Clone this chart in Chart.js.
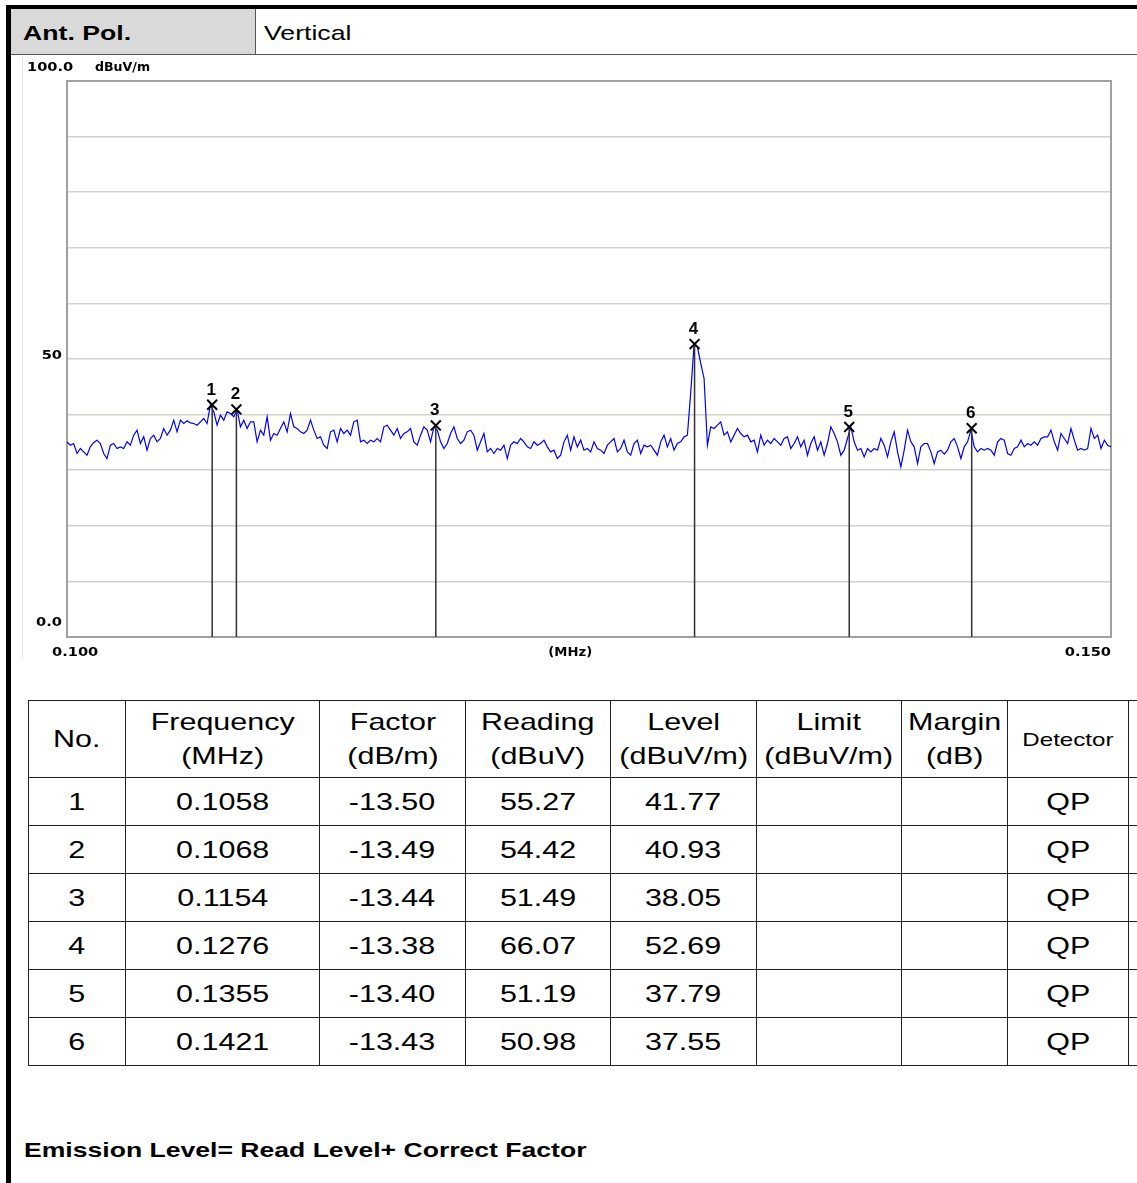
<!DOCTYPE html>
<html>
<head>
<meta charset="utf-8">
<script src="https://cdn.jsdelivr.net/npm/chart.js@4.4.1/dist/chart.umd.min.js"></script>
<style>
    html, body { margin: 0; padding: 0; background: #fff; }
    body { width: 1137px; height: 1183px; position: relative; overflow: hidden;
           font-family: "Liberation Sans", Arial, sans-serif; color: #000; }
    .bar-left { position: absolute; left: 6px; top: 5px; width: 5px; height: 1178px; background: #000; }
    .bar-top { position: absolute; left: 6px; top: 5px; width: 1131px; height: 4px; background: #000; }
    .hdr { position: absolute; top: 9px; height: 45px; border-bottom: 1px solid #555; }
    .hdr-key { left: 11px; width: 244px; background: #d9d9d9; border-right: 1px solid #555; }
    .hdr-val { left: 256px; width: 881px; }
    .hdr span { position: absolute; top: 12px; font-size: 21px; white-space: nowrap;
                transform: scaleX(1.27); transform-origin: left center; }
    .hdr-key span { left: 12px; font-weight: bold; }
    .hdr-val span { left: 8px; }
    .faint { position: absolute; left: 22px; top: 57px; width: 1px; height: 602px; background: #e4e4e4; }
    .chart-box { position: absolute; left: 22px; top: 57px; width: 1115px; height: 605px; }
    table { position: absolute; left: 28px; top: 700px; border-collapse: collapse; table-layout: fixed; width: 1160px; }
    td { border: 1.5px solid #222; padding: 0; text-align: center; font-size: 24px; height: 47px; }
    tr.head td { height: 76px; line-height: 34px; }
    .sc { display: inline-block; transform: scaleX(1.27); white-space: nowrap; }
    .det { font-size: 19px; }
    .note { position: absolute; left: 24px; top: 1138px; font-size: 21px; font-weight: bold; white-space: nowrap;
            transform: scaleX(1.265); transform-origin: left center; }
</style>
</head>
<body>
<div class="bar-top"></div>
<div class="bar-left"></div>
<div class="hdr hdr-key"><span>Ant. Pol.</span></div>
<div class="hdr hdr-val"><span>Vertical</span></div>
<div class="faint"></div>
<div class="chart-box"><canvas id="chart-emi"></canvas></div>
<table id="marker-table"></table>
<div class="note">Emission Level= Read Level+ Correct Factor</div>

<script>
// sweep span (MHz), log axis
const sweepStartMHz = 0.1;
const sweepStopMHz = 0.15;

// measured trace, dBuV/m, one value per sweep point
const traceLevel = [
    35.1, 34.5, 34.8, 33.0, 33.9, 33.3, 32.7, 34.2, 35.0, 35.4,
    34.8, 33.0, 32.1, 34.5, 34.8, 33.9, 34.2, 33.9, 35.1, 34.5,
    36.3, 37.2, 34.8, 36.0, 33.6, 35.7, 36.3, 35.1, 35.7, 37.5,
    36.3, 37.2, 39.0, 36.9, 39.0, 38.4, 38.9, 38.5, 38.4, 38.1,
    38.7, 39.3, 38.4, 41.8, 40.5, 38.1, 39.9, 39.0, 40.5, 40.2,
    39.6, 40.9, 37.8, 39.0, 37.5, 38.7, 38.7, 35.1, 37.2, 36.3,
    39.6, 35.4, 36.6, 36.3, 37.5, 38.7, 36.9, 40.2, 37.8, 37.5,
    36.9, 36.6, 37.2, 39.0, 37.2, 35.7, 36.0, 34.5, 33.9, 36.9,
    37.2, 35.1, 37.5, 36.6, 37.2, 36.3, 38.7, 39.0, 35.1, 35.4,
    34.8, 35.4, 35.1, 35.7, 35.1, 37.8, 38.1, 37.2, 36.3, 37.5,
    35.7, 36.6, 36.9, 37.5, 35.1, 34.5, 36.3, 37.8, 37.2, 35.1,
    37.8, 37.2, 35.1, 33.9, 34.8, 36.6, 37.8, 35.7, 34.8, 35.4,
    36.9, 37.2, 36.3, 33.6, 35.1, 36.6, 33.3, 33.9, 33.0, 33.9,
    33.6, 34.5, 32.1, 34.5, 35.1, 34.8, 35.7, 35.1, 34.2, 33.9,
    35.1, 34.5, 34.8, 35.4, 34.2, 33.3, 33.6, 32.1, 32.7, 35.1,
    36.3, 33.6, 36.0, 34.2, 35.4, 33.6, 33.9, 33.3, 35.1, 33.9,
    33.6, 33.0, 34.5, 35.1, 35.7, 33.3, 33.9, 35.4, 33.3, 32.7,
    34.8, 35.4, 33.0, 34.5, 34.2, 34.5, 33.6, 32.7, 35.1, 36.3,
    34.2, 35.7, 33.6, 34.8, 35.1, 36.0, 36.3, 44.0, 52.5, 52.2,
    49.2, 46.5, 34.5, 37.8, 37.5, 38.1, 38.7, 36.3, 36.9, 35.1,
    36.3, 37.5, 36.6, 36.0, 36.3, 35.1, 35.4, 33.3, 36.3, 34.5,
    35.4, 34.8, 35.7, 35.1, 34.5, 35.7, 36.0, 33.9, 34.8, 36.0,
    34.2, 35.4, 32.7, 34.8, 36.0, 33.6, 35.1, 32.7, 34.8, 37.8,
    36.6, 35.1, 32.7, 33.6, 35.7,
    37.8, 35.1, 33.6, 33.9, 32.4, 33.9, 33.3, 33.9, 33.6, 35.7,
    34.5, 32.4, 35.1, 36.9, 33.3, 30.6, 33.6, 37.2, 35.1, 34.2,
    31.2, 34.2, 34.8, 34.8, 33.3, 31.2, 33.3, 33.6, 32.9, 33.6,
    35.1, 35.7, 34.2, 32.1, 34.2, 35.1, 37.2, 34.2, 33.3, 33.9,
    33.6, 33.9, 33.6, 32.7, 35.1, 35.7, 35.4, 33.0, 32.7, 33.9,
    34.2, 35.4, 34.2, 34.8, 34.5, 35.1, 34.5, 35.7, 36.0, 36.0,
    37.2, 35.1, 33.6, 36.6, 35.7, 34.8, 37.5, 35.4, 33.6, 33.9,
    33.6, 33.9, 37.5, 35.7, 36.3, 33.9, 35.4, 34.5, 34.2
];

// marker table
const markerNo = [1, 2, 3, 4, 5, 6];
const markerFreq = [0.1058, 0.1068, 0.1154, 0.1276, 0.1355, 0.1421];
const markerFactor = ['-13.50', '-13.49', '-13.44', '-13.38', '-13.40', '-13.43'];
const markerReading = ['55.27', '54.42', '51.49', '66.07', '51.19', '50.98'];
const markerLevel = [41.77, 40.93, 38.05, 52.69, 37.79, 37.55];
const markerDetector = ['QP', 'QP', 'QP', 'QP', 'QP', 'QP'];

// axis labels
const yTickValues = [100, 50, 0];
const yTickText = ['100.0', '50', '0.0'];
const yUnit = 'dBuV/m';
const xTickText = ['0.100', '0.150'];
const xUnit = '(MHz)';

// sweep points are log spaced between start and stop
const nPts = traceLevel.length;
const traceData = traceLevel.map((v, i) => ({
    x: sweepStartMHz * Math.pow(sweepStopMHz / sweepStartMHz, i / (nPts - 1)),
    y: v,
}));

function drawStretched(ctx, str, px, py, align, sx) {
    const w = ctx.measureText(str).width * sx;
    const left = align === 'right' ? px - w : align === 'center' ? px - w / 2 : px;
    ctx.save();
    ctx.translate(left, py);
    ctx.scale(sx, 1);
    ctx.textAlign = 'left';
    ctx.textBaseline = 'alphabetic';
    ctx.fillText(str, 0, 0);
    ctx.restore();
}

const emiLabels = {
    id: 'emiLabels',
    beforeDatasetsDraw(chart) {
        const { ctx, chartArea: a } = chart;
        ctx.save();
        ctx.strokeStyle = '#a0a0a0';
        ctx.lineWidth = 2;
        ctx.strokeRect(a.left, a.top, a.right - a.left, a.bottom - a.top);
        ctx.restore();
    },
    afterDraw(chart) {
        const { ctx, chartArea: a, scales: { x, y } } = chart;
        ctx.save();
        ctx.fillStyle = '#000';
        ctx.font = 'bold 12px "DejaVu Sans"';
        const sx = 1.22;

        // y labels
        drawStretched(ctx, yTickText[0], a.left - 40, y.getPixelForValue(yTickValues[0]) - 10, 'left', sx);
        drawStretched(ctx, yUnit, a.left + 28, y.getPixelForValue(yTickValues[0]) - 10, 'left', 1.05);
        drawStretched(ctx, yTickText[1], a.left - 5, y.getPixelForValue(yTickValues[1]), 'right', sx);
        drawStretched(ctx, yTickText[2], a.left - 5, y.getPixelForValue(yTickValues[2]) - 11, 'right', sx);

        // x labels
        const base = a.bottom + 19;
        drawStretched(ctx, xTickText[0], x.getPixelForValue(sweepStartMHz) - 15, base, 'left', sx);
        drawStretched(ctx, xTickText[1], x.getPixelForValue(sweepStopMHz), base, 'right', sx);
        drawStretched(ctx, xUnit, a.left + (a.right - a.left) * 0.482, base, 'center', 1.1);

        // marker numbers
        ctx.font = 'bold 17px "Liberation Sans"';
        ctx.textAlign = 'center';
        markerNo.forEach((n, i) => {
            ctx.fillText(String(n), x.getPixelForValue(markerFreq[i]) - 1, y.getPixelForValue(markerLevel[i]) - 10);
        });
        ctx.restore();
    }
};

const stemSets = markerFreq.map((f, i) => ({
    type: 'line',
    data: [{ x: f, y: 0 }, { x: f, y: markerLevel[i] }],
    borderColor: '#333',
    borderWidth: 1.5,
    pointRadius: 0,
    order: 2,
}));

new Chart(document.getElementById('chart-emi'), {
    type: 'line',
    data: {
        datasets: [
            {
                data: traceData,
                borderColor: '#0000ff',
                borderWidth: 1.2,
                pointRadius: 0,
                tension: 0,
                order: 3,
            },
            ...stemSets,
            {
                type: 'scatter',
                data: markerFreq.map((f, i) => ({ x: f, y: markerLevel[i] })),
                pointStyle: 'crossRot',
                pointRadius: 7,
                borderColor: '#000',
                borderWidth: 2,
                order: 1,
            },
        ],
    },
    options: {
        responsive: true,
        maintainAspectRatio: false,
        animation: false,
        layout: { padding: { left: 45, top: 24, right: 26, bottom: 25 } },
        plugins: { legend: { display: false }, tooltip: { enabled: false } },
        scales: {
            x: {
                type: 'logarithmic',
                min: sweepStartMHz,
                max: sweepStopMHz,
                ticks: { display: false },
                grid: { display: false, drawTicks: false },
                border: { display: false },
            },
            y: {
                type: 'linear',
                min: 0,
                max: 100,
                ticks: { display: false, stepSize: 10 },
                grid: { color: '#d5d1c9', lineWidth: 1.5, drawTicks: false },
                border: { display: false },
            },
        },
    },
    plugins: [emiLabels],
});

// table
const table = document.getElementById('marker-table');
const headCells = ['No.', 'Frequency<br>(MHz)', 'Factor<br>(dB/m)', 'Reading<br>(dBuV)', 'Level<br>(dBuV/m)',
    'Limit<br>(dBuV/m)', 'Margin<br>(dB)'];
const colWidths = [97, 194, 146, 145, 146, 145, 106, 121, 60];
let html = '<colgroup>' + colWidths.map(w => `<col style="width:${w}px">`).join('') + '</colgroup>';
html += '<tr class="head">' + headCells.map(h => `<td><span class="sc">${h}</span></td>`).join('') +
    '<td><span class="sc det">Detector</span></td><td></td></tr>';
markerNo.forEach((n, i) => {
    html += `<tr>
        <td><span class="sc">${n}</span></td>
        <td><span class="sc">${markerFreq[i].toFixed(4)}</span></td>
        <td><span class="sc">${markerFactor[i]}</span></td>
        <td><span class="sc">${markerReading[i]}</span></td>
        <td><span class="sc">${markerLevel[i].toFixed(2)}</span></td>
        <td></td><td></td>
        <td><span class="sc">${markerDetector[i]}</span></td>
        <td></td>
    </tr>`;
});
table.innerHTML = html;
</script>
</body>
</html>
